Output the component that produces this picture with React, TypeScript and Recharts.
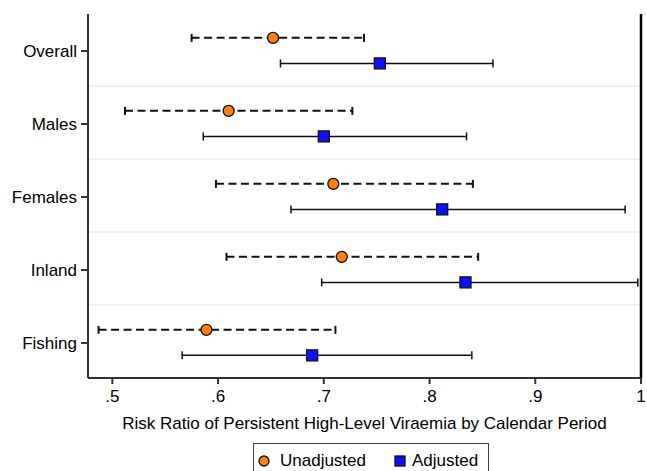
import {
  ScatterChart,
  Scatter,
  XAxis,
  YAxis,
  ErrorBar,
  ReferenceLine,
  Legend,
} from "recharts";

const FONT = '"Liberation Sans", Arial, Helvetica, sans-serif';

const groups = ["Overall", "Males", "Females", "Inland", "Fishing"];

// unadjusted risk ratios + 95% CI
const unadjRR = [0.652, 0.61, 0.709, 0.717, 0.589];
const unadjLo = [0.575, 0.512, 0.598, 0.608, 0.487];
const unadjHi = [0.738, 0.727, 0.841, 0.846, 0.711];

// adjusted risk ratios + 95% CI
const adjRR = [0.753, 0.7, 0.812, 0.834, 0.689];
const adjLo = [0.659, 0.586, 0.669, 0.698, 0.566];
const adjHi = [0.86, 0.835, 0.985, 0.997, 0.84];

const xTicks = [0.5, 0.6, 0.7, 0.8, 0.9, 1];

const ORANGE = "#ff7f0e";
const BLUE = "#1010ff";

const rowOffset = 0.18;

const unadjData = groups.map((g, i) => ({
  name: g,
  x: unadjRR[i],
  y: i - rowOffset,
  ci: [unadjRR[i] - unadjLo[i], unadjHi[i] - unadjRR[i]],
}));

const adjData = groups.map((g, i) => ({
  name: g,
  x: adjRR[i],
  y: i + rowOffset - 0.01,
  ci: [adjRR[i] - adjLo[i], adjHi[i] - adjRR[i]],
}));

const fmtX = (v: number) => (v === 1 ? "1" : String(v).replace(/^0/, ""));

const CircleDot = (p: any) => (
  <circle cx={p.cx} cy={p.cy} r={5.5} fill={ORANGE} stroke="#111" strokeWidth={1.3} />
);

const SquareDot = (p: any) => (
  <rect x={p.cx - 5.5} y={p.cy - 5.5} width={11} height={11} fill={BLUE} stroke="#111" strokeWidth={1.3} />
);

function LegendBox() {
  return (
    <div
      style={{
        display: "flex",
        alignItems: "center",
        border: "1.5px solid #444",
        background: "#fff",
        padding: "7px 10px 10px 4px",
        fontFamily: FONT,
        fontSize: 17,
        color: "#000",
        lineHeight: "19px",
      }}
    >
      <svg width={12} height={12} style={{ marginRight: 10 }}>
        <circle cx={6} cy={6} r={5} fill={ORANGE} stroke="#111" strokeWidth={1.3} />
      </svg>
      <span>Unadjusted</span>
      <svg width={12} height={12} style={{ marginLeft: 28, marginRight: 6 }}>
        <rect x={1} y={1} width={10} height={10} fill={BLUE} stroke="#111" strokeWidth={1.3} />
      </svg>
      <span>Adjusted</span>
    </div>
  );
}

export default function App() {
  return (
    <div style={{ position: "absolute", left: 0, top: 0, width: 647, height: 471, background: "#fff" }}>
      <ScatterChart width={647} height={471} margin={{ top: 14, right: 6, left: 0, bottom: 0 }}>
        <XAxis
          type="number"
          dataKey="x"
          domain={[0.477, 1]}
          allowDataOverflow
          ticks={xTicks}
          tickFormatter={fmtX}
          height={93}
          stroke="#333"
          strokeWidth={2}
          tickSize={6}
          tickMargin={6}
          tick={{ fill: "#000", fontSize: 17, fontFamily: FONT }}
          label={{
            value: "Risk Ratio of Persistent High-Level Viraemia by Calendar Period",
            position: "insideBottom",
            offset: 42,
            fill: "#000",
            fontSize: 17,
            fontFamily: FONT,
          }}
        />
        <YAxis
          type="number"
          dataKey="y"
          reversed
          domain={[-0.507, 4.48]}
          allowDataOverflow
          ticks={[0, 1, 2, 3, 4]}
          tickFormatter={(i: number) => groups[i]}
          width={88}
          stroke="#333"
          strokeWidth={2}
          tickSize={7}
          tickMargin={4}
          tick={{ fill: "#000", fontSize: 17, fontFamily: FONT }}
        />
        {[0.48, 1.48, 2.48, 3.48].map((y) => (
          <ReferenceLine key={y} y={y} stroke="#e3eef2" strokeWidth={1.5} />
        ))}
        <ReferenceLine x={1} stroke="#000" strokeWidth={2.5} />
        <Scatter name="Unadjusted" data={unadjData} shape={CircleDot} isAnimationActive={false}>
          <ErrorBar
            dataKey="ci"
            direction="x"
            width={4}
            stroke="#111"
            strokeWidth={2}
            strokeDasharray="8 4.5"
            isAnimationActive={false}
          />
        </Scatter>
        <Scatter name="Adjusted" data={adjData} shape={SquareDot} isAnimationActive={false}>
          <ErrorBar
            dataKey="ci"
            direction="x"
            width={4}
            stroke="#111"
            strokeWidth={1.5}
            isAnimationActive={false}
          />
        </Scatter>
        <Legend
          layout="vertical"
          align="center"
          verticalAlign="middle"
          content={() => <LegendBox />}
          wrapperStyle={{ top: 443, left: 253, width: "auto", bottom: "auto" }}
        />
      </ScatterChart>
    </div>
  );
}
